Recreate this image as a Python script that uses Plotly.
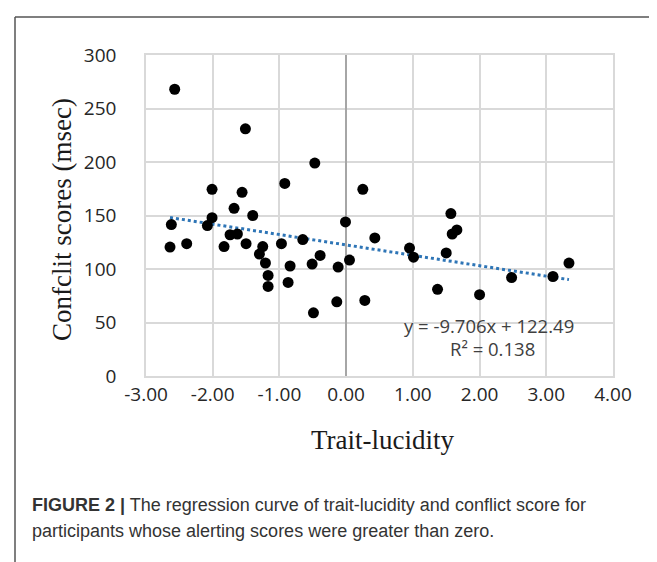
import plotly.graph_objects as go

# Data
trait_lucidity = [-2.57, -1.51, -0.47, -2.01, -1.56, -0.92, 0.25, -1.68, -1.40, -2.01,
                  -0.01, -2.62, -2.08, -1.74, -1.63, -2.64, -2.39, -1.83, -1.50, -1.25,
                  -1.30, -1.21, -1.17, -1.17, -0.97, -0.84, -0.87, -0.65, -0.39, -0.51,
                  -0.49, -0.12, -0.14, 0.05, 0.28, 0.43, 0.95, 1.01, 1.57, 1.59,
                  1.66, 1.50, 1.37, 2.00, 2.48, 3.10, 3.34]
conflict_scores = [268, 231, 199, 174.5, 171.7, 180, 174.5, 156.7, 150, 148,
                   144, 141.5, 140.6, 132, 132.7, 120.5, 123.7, 121, 123.7, 121,
                   114, 105.6, 94, 83.7, 123.7, 102.8, 87.4, 127.5, 112.7, 104.6,
                   59, 101.8, 69.3, 108.3, 70.6, 129, 119.6, 111, 151.8, 132.7,
                   136.5, 115, 81, 76, 92, 93, 105.5]

slope = -9.706
intercept = 122.49
r_squared = 0.138

x_ticks = [-3, -2, -1, 0, 1, 2, 3, 4]
x_tick_labels = ["-3.00", "-2.00", "-1.00", "0.00", "1.00", "2.00", "3.00", "4.00"]
y_ticks = [0, 50, 100, 150, 200, 250, 300]

x_min = min(trait_lucidity)
x_max = max(trait_lucidity)
trend_x = [x_min, x_max]
trend_y = [slope * v + intercept for v in trend_x]

fig = go.Figure()
fig.add_trace(go.Scatter(
    x=trend_x, y=trend_y, mode="lines",
    line=dict(color="#2E75B6", width=3, dash="dot"),
    hoverinfo="skip", showlegend=False))
fig.add_trace(go.Scatter(
    x=trait_lucidity, y=conflict_scores, mode="markers",
    marker=dict(color="black", size=11),
    showlegend=False))

tick_font = dict(family="Open Sans, sans-serif", size=19, color="#262626")

fig.update_xaxes(
    range=[-3, 4], tickvals=x_ticks, ticktext=x_tick_labels,
    showgrid=True, gridcolor="#D9D9D9", gridwidth=1.5,
    zeroline=True, zerolinecolor="#A6A6A6", zerolinewidth=1.5,
    showline=True, linecolor="#D9D9D9", linewidth=1.5, mirror=True,
    tickfont=tick_font, ticks="", ticklabelstandoff=0)
fig.update_yaxes(
    range=[0, 300], tickvals=y_ticks,
    showgrid=True, gridcolor="#D9D9D9", gridwidth=1.5,
    zeroline=False,
    showline=True, linecolor="#D9D9D9", linewidth=1.5, mirror=True,
    tickfont=tick_font, ticks="", ticklabelstandoff=24)

W, H = 657, 562
L, R, T, B = 138, 52, 47, 194
pw, ph = W - L - R, H - T - B

def px(xp):
    return (xp - L) / pw

def py(yp):
    return (H - B - yp) / ph

serif = dict(family="Liberation Serif, Times New Roman, serif", size=27, color="#1a1a1a")
eq_font = dict(family="Open Sans, sans-serif", size=18.5, color="#404040")
cap_font = dict(family="Liberation Sans, Arial, sans-serif", size=18, color="#333333")

annotations = [
    dict(text="Trait-lucidity", x=px(375), y=py(432), font=serif),
    dict(text="Confclit scores (msec)", x=px(54), y=py(212), textangle=-90, font=serif),
    dict(text=f"y = {slope}x + {intercept}", x=px(481), y=py(317), font=eq_font),
    dict(text=f"R² = {r_squared}", x=px(484), y=py(340), font=eq_font),
    dict(text="<b>FIGURE 2 |</b> The regression curve of trait-lucidity and conflict score for",
         x=px(22), y=py(497), xanchor="left", font=cap_font),
    dict(text="participants whose alerting scores were greater than zero.",
         x=px(22), y=py(523), xanchor="left", font=cap_font),
]
for a in annotations:
    a.setdefault("xanchor", "center")
    a["yanchor"] = "middle"
    a["xref"] = "paper"
    a["yref"] = "paper"
    a["showarrow"] = False

shapes = [
    dict(type="line", xref="paper", yref="paper", x0=px(7), x1=px(7), y0=py(9), y1=py(562),
         line=dict(color="#555555", width=1.5)),
    dict(type="line", xref="paper", yref="paper", x0=px(7), x1=px(657), y0=py(9), y1=py(9),
         line=dict(color="#555555", width=1.5)),
]

fig.update_layout(
    width=W, height=H,
    margin=dict(l=L, r=R, t=T, b=B),
    paper_bgcolor="white", plot_bgcolor="white",
    annotations=annotations, shapes=shapes,
    showlegend=False)

fig.write_html("out.html")
